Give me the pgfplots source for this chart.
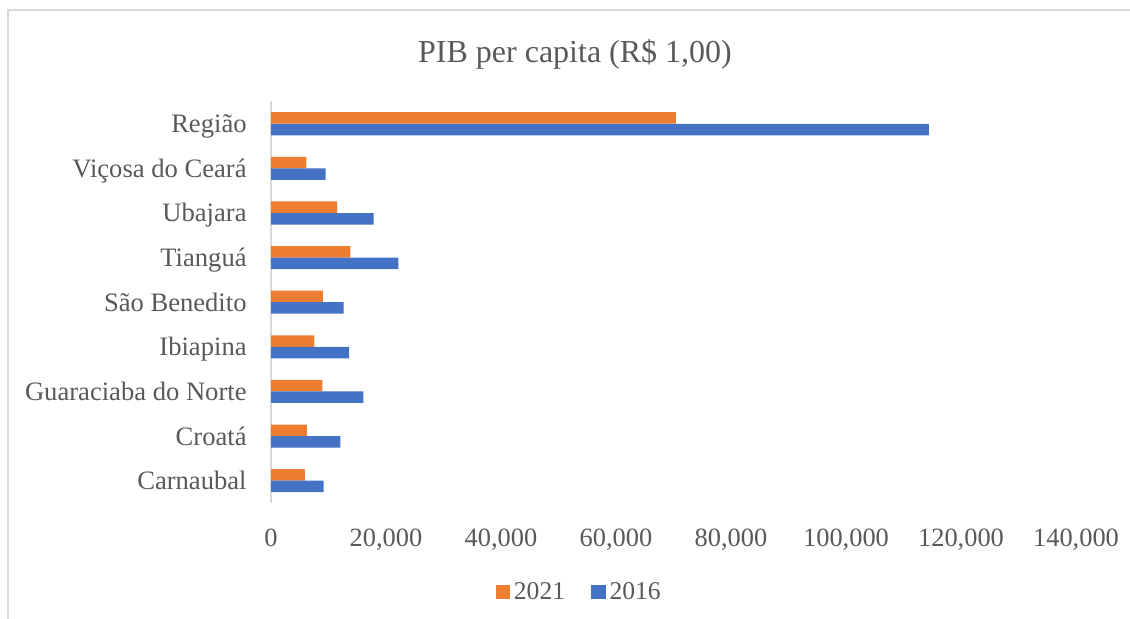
\documentclass[border=0pt]{standalone}
\usepackage{pgfplots}
\pgfplotsset{compat=1.18}
\usepackage{fontspec}
\setmainfont{Liberation Serif}
\definecolor{orng}{HTML}{ED7D31}
\definecolor{blu}{HTML}{4472C4}
\definecolor{txt}{HTML}{595959}
\definecolor{frm}{HTML}{D9D9D9}
\begin{document}
\begin{tikzpicture}
\path[use as bounding box] (0,0) rectangle (565pt,309.5pt);
\draw[frm, line width=0.6pt] (4pt,-1pt) -- (4pt,304.5pt) -- (566pt,304.5pt);
\node[txt, font=\fontsize{16}{19}\selectfont, text height=0.66em, text depth=0pt, inner sep=0pt, anchor=center] at (287.5pt,281.5pt) {PIB per capita (R\$ 1,00)};
\begin{axis}[
  at={(135.5pt,58pt)}, anchor=south west,
  scale only axis, width=402.5pt, height=200.8pt,
  xbar, bar width=5.75pt,
  xmin=0, xmax=140000, ymin=-0.5, ymax=8.5,
  xtick={0,20000,40000,60000,80000,100000,120000,140000},
  xticklabels={0,{20,000},{40,000},{60,000},{80,000},{100,000},{120,000},{140,000}},
  scaled x ticks=false,
  xticklabel style={inner sep=0pt, anchor=north, yshift=-13pt, font=\fontsize{13.2}{15}\selectfont, text=txt},
  ytick={0,1,2,3,4,5,6,7,8},
  yticklabels={Carnaubal, Croatá, Guaraciaba do Norte, Ibiapina, São Benedito, Tianguá, Ubajara, Viçosa do Ceará, Região},
  yticklabel style={inner sep=0pt, anchor=east, xshift=-12pt, yshift=-1.2pt, text height=0.66em, text depth=0pt, font=\fontsize{13.3}{15}\selectfont, text=txt},
  axis lines*=left,
  x axis line style={draw=none},
  y axis line style={draw=frm, line width=1pt},
  major tick length=0pt,
  legend style={draw=none, fill=none, legend columns=2, at={(axis description cs:0.384,-0.222)}, anchor=center, font=\fontsize{12.8}{15}\selectfont, text=txt, inner sep=0pt, /tikz/every even column/.append style={column sep=11pt}},
  legend cell align=left,
  legend image code/.code={\fill[#1] (0pt,-3.6pt) rectangle (7.2pt,3.6pt);},
]
\addplot[fill=orng, draw=none, bar shift=2.9pt] coordinates {
 (5910,0) (6260,1) (8920,2) (7530,3) (9040,4) (13790,5) (11480,6) (6140,7) (70400,8)};
\addlegendentry{2021}
\addplot[fill=blu, draw=none, bar shift=-2.9pt] coordinates {
 (9160,0) (12050,1) (16050,2) (13570,3) (12640,4) (22140,5) (17860,6) (9510,7) (114400,8)};
\addlegendentry{2016}
\end{axis}
\end{tikzpicture}
\end{document}
